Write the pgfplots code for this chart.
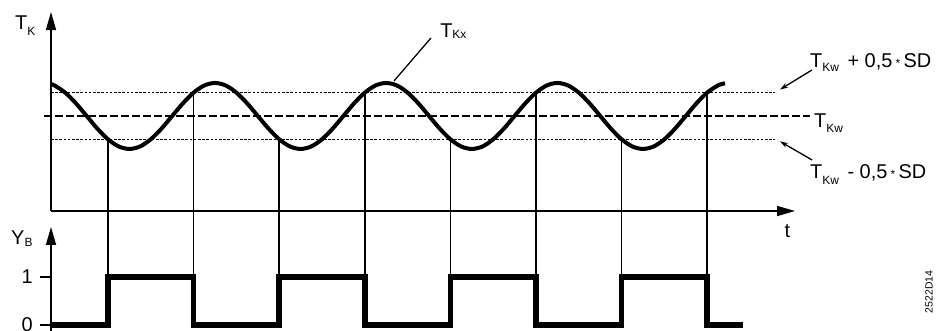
\documentclass[border=0pt]{standalone}
\usepackage{fontspec}
\setmainfont{Liberation Sans}
\usepackage{pgfplots}
\pgfplotsset{compat=1.18}
\usetikzlibrary{arrows.meta}
\newcommand\lbl{\fontsize{20}{24}\selectfont}
\newcommand\sub[2]{\raisebox{-#1bp}{\fontsize{12}{12}\selectfont #2}}
\newcommand\str{\,{\fontsize{12}{12}\selectfont*}\,}
\begin{document}
\begin{tikzpicture}
% ---------- upper diagram: T_K over t ----------
\begin{axis}[
  at={(51bp,120bp)}, anchor=south west,
  x=85.6bp, y=33bp,
  xmin=0.334, xmax=9.026, ymin=-2.88, ymax=3.15,
  axis lines=left,
  axis line style={line width=1.5bp, -{Triangle[length=18bp,width=10bp]}},
  xtick=\empty, ytick=\empty, clip=false]
% thresholds
\addplot[line width=1.4bp, dash pattern=on 2.6bp off 1.6bp] coordinates {(0.334,0.707) (8.792,0.707)};
\addplot[line width=1.4bp, dash pattern=on 2.6bp off 1.6bp] coordinates {(0.334,-0.707) (8.792,-0.707)};
\addplot[line width=1.5bp, dash pattern=on 8bp off 3bp] coordinates {(0.252,0) (9.2,0)};
% switching instants
\addplot[line width=1.5bp] coordinates {(1,-0.707) (1,-4.88)};
\addplot[line width=1.5bp] coordinates {(2,0.707) (2,-4.88)};
\addplot[line width=1.5bp] coordinates {(3,-0.707) (3,-4.88)};
\addplot[line width=1.5bp] coordinates {(4,0.707) (4,-4.88)};
\addplot[line width=1.5bp] coordinates {(5,-0.707) (5,-4.88)};
\addplot[line width=1.5bp] coordinates {(6,0.707) (6,-4.88)};
\addplot[line width=1.5bp] coordinates {(7,-0.707) (7,-4.88)};
\addplot[line width=1.5bp] coordinates {(8,0.707) (8,-4.88)};
% T_Kx curve
\addplot[line width=4bp, smooth] coordinates {
(0.334,0.965) (0.375,0.924) (0.5,0.707) (0.625,0.383) (0.75,0) (0.875,-0.383)
(1,-0.707) (1.125,-0.924) (1.25,-1) (1.375,-0.924) (1.5,-0.707) (1.625,-0.383)
(1.75,0) (1.875,0.383) (2,0.707) (2.125,0.924) (2.25,1) (2.375,0.924)
(2.5,0.707) (2.625,0.383) (2.75,0) (2.875,-0.383) (3,-0.707) (3.125,-0.924)
(3.25,-1) (3.375,-0.924) (3.5,-0.707) (3.625,-0.383) (3.75,0) (3.875,0.383)
(4,0.707) (4.125,0.924) (4.25,1) (4.375,0.924) (4.5,0.707) (4.625,0.383)
(4.75,0) (4.875,-0.383) (5,-0.707) (5.125,-0.924) (5.25,-1) (5.375,-0.924)
(5.5,-0.707) (5.625,-0.383) (5.75,0) (5.875,0.383) (6,0.707) (6.125,0.924)
(6.25,1) (6.375,0.924) (6.5,0.707) (6.625,0.383) (6.75,0) (6.875,-0.383)
(7,-0.707) (7.125,-0.924) (7.25,-1) (7.375,-0.924) (7.5,-0.707) (7.625,-0.383)
(7.75,0) (7.875,0.383) (8,0.707) (8.125,0.924) (8.208,0.991)};
% leader lines
\addplot[line width=1.3bp] coordinates {(4.773,2.364) (4.341,1.06)};
\addplot[line width=1.3bp, -{Stealth[length=8bp,width=5bp]}] coordinates {(9.224,1.394) (8.850,0.80)};
\addplot[line width=1.3bp, -{Stealth[length=8bp,width=5bp]}] coordinates {(9.224,-1.333) (8.850,-0.77)};
% labels
\node[anchor=base west, inner sep=0, font=\lbl] at (axis cs:-0.086,2.606) {T\sub{5.5}{K}};
\node[anchor=base west, inner sep=0, font=\lbl] at (axis cs:4.879,2.364) {T\sub{0.5}{Kx}};
\node[anchor=base west, inner sep=0, font=\lbl] at (axis cs:9.201,1.455) {T\sub{4}{Kw}\hspace{3bp} + 0,5\str SD};
\node[anchor=base west, inner sep=0, font=\lbl] at (axis cs:9.248,-0.364) {T\sub{5}{Kw}};
\node[anchor=base west, inner sep=0, font=\lbl] at (axis cs:9.201,-1.909) {T\sub{6}{Kw}\hspace{3bp} - 0,5\str SD};
\node[anchor=base, inner sep=0, font=\lbl] at (axis cs:8.938,-3.697) {t};
\end{axis}
% ---------- lower diagram: Y_B ----------
\begin{axis}[
  at={(51bp,0bp)}, anchor=south west,
  x=85.6bp, y=48bp,
  xmin=0.334, xmax=9.026, ymin=-0.125, ymax=2.042,
  axis x line=none, axis y line=left,
  axis line style={line width=1.5bp, -{Triangle[length=18bp,width=10bp]}},
  xtick=\empty, ytick={0,1}, yticklabels={0,1},
  tick align=outside, major tick length=11bp,
  tick style={line width=1.5bp, black},
  yticklabel style={font=\lbl, inner sep=7bp},
  /pgf/number format/assume math mode=true,
  clip=false]
\addplot[line width=5.5bp] coordinates {
(0.334,0) (1,0) (1,1) (2,1) (2,0) (3,0) (3,1) (4,1) (4,0)
(5,0) (5,1) (6,1) (6,0) (7,0) (7,1) (8,1) (8,0) (8.418,0)};
\node[anchor=base west, inner sep=0, font=\lbl] at (axis cs:-0.133,1.667) {Y\sub{2}{B}};
\end{axis}
\node[rotate=90, inner sep=0, font=\fontsize{10.5}{12}\selectfont] at (929bp,39bp) {2522D14};
\pgfresetboundingbox
\path (0,0) rectangle (948bp,331bp);
\end{tikzpicture}
\end{document}
